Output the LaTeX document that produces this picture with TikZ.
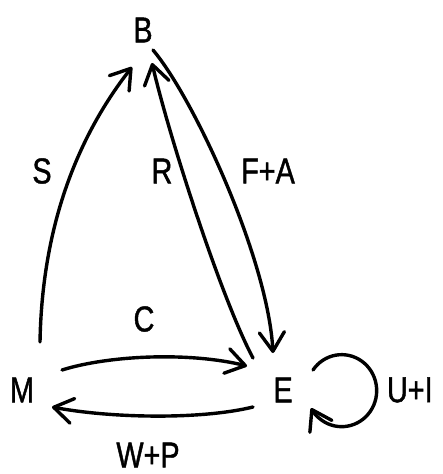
\documentclass[tikz,border=0pt]{standalone}
\usepackage{fontspec}
\setmainfont{Liberation Sans}[FakeStretch=0.8,FakeBold=1.2]
\usetikzlibrary{arrows.meta}
\begin{document}
\begin{tikzpicture}[x=1pt,y=-1pt,
  lbl/.style={inner sep=0pt,outer sep=0pt,font=\fontsize{36}{40}\selectfont},
  conn/.style={line width=3.4pt,line cap=round,line join=round,
    -{Straight Barb[length=19pt,width=25pt,line cap=round,line join=round]}}]
\useasboundingbox (0,0) rectangle (443,474);
% nodes
\node[lbl] (B) at (143,30) {B};
\node[lbl] (M) at (22,390) {M};
\node[lbl] (E) at (283,390) {E};
% labels
\node[lbl] (lS) at (42,171) {S};
\node[lbl] (lR) at (162,171) {R};
\node[lbl] (lFA) at (268,171) {F+A};
\node[lbl] (lC) at (144,319) {C};
\node[lbl] (lWP) at (148,455) {W+P};
\node[lbl,anchor=west] (lUI) at (387,390) {U+I};
% connectors
\draw[conn] ([shift={(18,-48)}]M.center) .. controls (42,230) and (75,140) .. ([shift={(-11,37)}]B.center);
\draw[conn] ([shift={(-30,-32)}]E.center) .. controls (222,300) and (170,140) .. ([shift={(9,33)}]B.center);
\draw[conn] ([shift={(10,20)}]B.center) .. controls (195,100) and (268,260) .. ([shift={(-10,-37)}]E.center);
\draw[conn] ([shift={(40,-20)}]M.center) .. controls (110,355) and (190,352) .. ([shift={(-36,-24)}]E.center);
\draw[conn] ([shift={(-30,17)}]E.center) .. controls (200,420) and (110,418) .. ([shift={(30,17)}]M.center);
\draw[conn] ([shift={(30,-20)}]E.center) arc[start angle=-145,end angle=151,x radius=35,y radius=36];
\end{tikzpicture}
\end{document}
